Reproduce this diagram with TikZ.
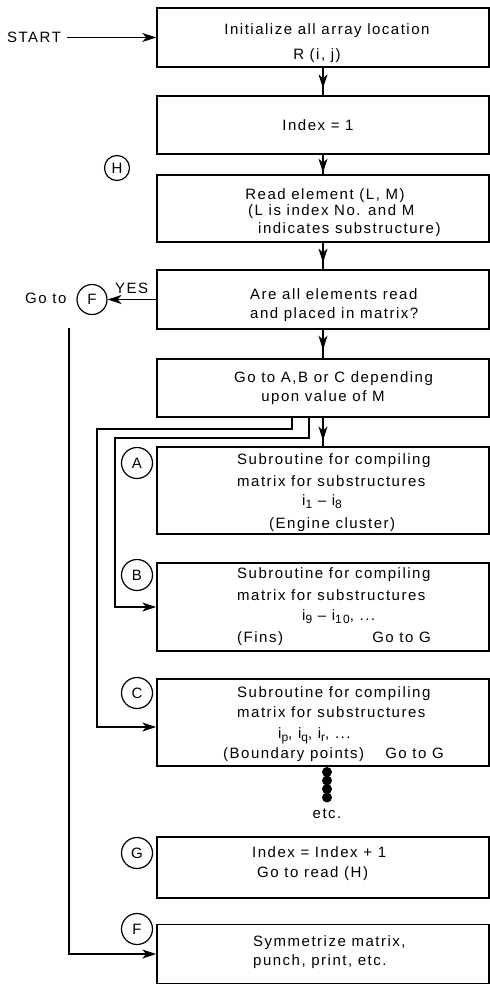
\documentclass[tikz,border=0pt]{standalone}
\usepackage{fontspec}
\setmainfont{Liberation Sans}[LetterSpace=10]
\usetikzlibrary{arrows.meta,decorations.markings}
\newcommand{\sbs}[1]{\raisebox{-3.5bp}{\fontsize{12bp}{12bp}\selectfont #1}}
\tikzset{
  box/.style={draw, rectangle, line width=1.5bp, minimum width=332bp, inner sep=0pt},
  lbl/.style={inner sep=0pt, font=\fontsize{15bp}{17bp}\selectfont},
  lw/.style={lbl, anchor=base west},
  lc/.style={lbl, anchor=base},
  le/.style={lbl, anchor=base east},
  circ/.style={draw, circle, line width=1.2bp, inner sep=0pt, minimum size=31bp, font=\fontsize{15bp}{17bp}\selectfont},
  conn/.style={line width=1.4bp},
  tip/.style={-{Stealth[length=14bp,width=9bp,inset=4bp]}},
  arrowat/.style={postaction={decorate}, decoration={markings,
     mark=at position #1 with {\arrow{Stealth[length=14bp,width=9bp,inset=4bp]}}}},
  dot/.style={fill, circle, inner sep=0pt, minimum size=10bp}
}
\begin{document}
\begin{tikzpicture}[x=1bp,y=-1bp]
\useasboundingbox (0,0) rectangle (490,985);
% boxes
\node[box, minimum height=59bp] (b1) at (323,37.5) {};
\node[box, minimum height=58bp] (b2) at (323,125) {};
\node[box, minimum height=67bp] (b3) at (323,208.5) {};
\node[box, minimum height=59bp] (b4) at (323,299.5) {};
\node[box, minimum height=58bp] (b5) at (323,388) {};
\node[box, minimum height=87bp] (bA) at (323,490.5) {};
\node[box, minimum height=88bp] (bB) at (323,607) {};
\node[box, minimum height=87bp] (bC) at (323,722.5) {};
\node[box, minimum height=61bp] (bG) at (323,867.5) {};
\node[box, minimum height=59bp] (bF) at (323,954) {};
% texts
\node[lw] (start) at (7,42) {START};
\node[lc] (t1a) at (327,34) {Initialize all array location};
\node[lc] (t1b) at (317,59) {R (i, j)};
\node[lc] (t2a) at (318,130) {Index = 1};
\node[lc] (t3a) at (325,199) {Read element (L, M)};
\node[lw] (t3b) at (248,215) {(L is index No. and M};
\node[lw] (t3c) at (258,233) {indicates substructure)};
\node[lw] (t4a) at (250,299) {Are all elements read};
\node[lw] (t4b) at (250,318) {and placed in matrix?};
\node[lc] (t5a) at (333.5,382) {Go to A,B or C depending};
\node[lc] (t5b) at (323,401) {upon value of M};
\node[lw] (tAa) at (237,464) {Subroutine for compiling};
\node[lw] (tAb) at (237,486) {matrix for substructures};
\node[lw] (tAc) at (302,505) {i\sbs{1} – i\sbs{8}};
\node[lw] (tAd) at (269,528) {(Engine cluster)};
\node[lw] (tBa) at (237,578) {Subroutine for compiling};
\node[lw] (tBb) at (237,600) {matrix for substructures};
\node[lw] (tBc) at (302,620) {i\sbs{9} – i\sbs{10}, ...};
\node[lw] (tBd) at (237,642) {(Fins)};
\node[le] (tBe) at (431,642) {Go to G};
\node[lw] (tCa) at (237,697) {Subroutine for compiling};
\node[lw] (tCb) at (237,717) {matrix for substructures};
\node[lw] (tCc) at (278,738) {i\sbs{p}, i\sbs{q}, i\sbs{r}, ...};
\node[lw] (tCd) at (223,758) {(Boundary points)};
\node[le] (tCe) at (444,758) {Go to G};
\node[lc] (etc) at (327,818) {etc.};
\node[lw] (tGa) at (252,857) {Index = Index + 1};
\node[lw] (tGb) at (257,877) {Go to read (H)};
\node[lw] (tFa) at (253,946) {Symmetrize matrix,};
\node[lw] (tFb) at (253,965) {punch, print, etc.};
\node[lw] (goto) at (25,303) {Go to};
\node[lw] (yes) at (115,293) {YES};
% circles
\node[circ, minimum size=25bp] (cH) at (117,168) {H};
\node[circ, minimum size=30bp] (cF1) at (92,299.5) {F};
\node[circ] (cA) at (137,463) {A};
\node[circ] (cB) at (137,575) {B};
\node[circ] (cC) at (137,693) {C};
\node[circ] (cG) at (137,853) {G};
\node[circ] (cF) at (137,929) {F};
% dots
\node[dot] (d1) at (327,772) {};
\node[dot] (d2) at (327,780.5) {};
\node[dot] (d3) at (327,789) {};
\node[dot] (d4) at (327,797.5) {};
% connectors
\draw[conn, tip, shorten <=6bp] (start.east |- b1.west) -- (b1.west);
\draw[conn, arrowat=0.75] (b1.south) -- (b2.north);
\draw[conn, arrowat=0.92] (b2.south) -- (b3.north);
\draw[conn, arrowat=0.75] (b3.south) -- (b4.north);
\draw[conn, arrowat=0.7] (b4.south) -- (b5.north);
\draw[conn, arrowat=0.8] (b5.south) -- (bA.north);
\draw[conn, tip] (b4.west) -- (cF1.east);
\draw[conn, tip] ([xshift=-31bp]b5.south) |- (97,429) |- ([yshift=-4.5bp]bC.west);
\draw[conn, tip] ([xshift=-14bp]b5.south) |- (115,438) |- (bB.west);
\coordinate (fstart) at (69,328);
\draw[conn, tip] (fstart) |- (bF.west);
\end{tikzpicture}
\end{document}
